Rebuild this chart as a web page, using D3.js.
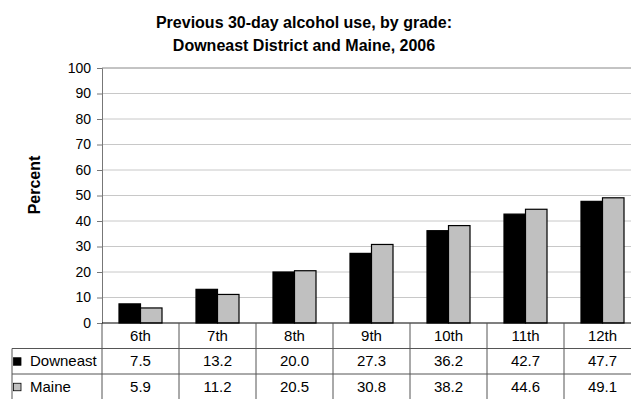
<!DOCTYPE html>
<html>
<head>
<meta charset="utf-8">
<script src="https://cdn.jsdelivr.net/npm/d3@7"></script>
<style>
  body { margin: 0; background: #fff; }
  svg { display: block; font-family: "Liberation Sans", Arial, sans-serif; }
</style>
</head>
<body>
<svg id="chart" width="631" height="399"></svg>
<script>
var grades = ["6th", "7th", "8th", "9th", "10th", "11th", "12th"];
var seriesNames = ["Downeast", "Maine"];
var downeast = [7.5, 13.2, 20.0, 27.3, 36.2, 42.7, 47.7];
var maine = [5.9, 11.2, 20.5, 30.8, 38.2, 44.6, 49.1];
var yTicks = [0, 10, 20, 30, 40, 50, 60, 70, 80, 90, 100];
var seriesColors = ["#000000", "#c0c0c0"];

var svg = d3.select("#chart");
var plotLeft = 102, plotRight = 641, plotTop = 68, plotBottom = 323;
var rowH = 25.5;

var x = d3.scaleBand().domain(grades).range([plotLeft, plotRight]);
var xs = d3.scaleBand().domain(seriesNames).range([0, x.bandwidth()]).paddingOuter(0.79);
var y = d3.scaleLinear().domain([0, 100]).range([plotBottom, plotTop]);

// title
var title = svg.append("text")
    .attr("text-anchor", "middle")
    .style("font-weight", "bold").style("font-size", "16px");
title.append("tspan").attr("x", 304).attr("y", 28).text("Previous 30-day alcohol use, by grade:");
title.append("tspan").attr("x", 304).attr("y", 51).text("Downeast District and Maine, 2006");

// gridlines
svg.append("g").selectAll("line")
    .data(yTicks.filter(function(d) { return d > 0; }))
    .join("line")
    .attr("x1", plotLeft).attr("x2", plotRight)
    .attr("y1", function(d) { return y(d); })
    .attr("y2", function(d) { return y(d); })
    .style("stroke", function(d) { return d == 100 ? "#888" : "#c8c8c8"; })
    .style("stroke-width", 1);

// y axis
var yAxis = svg.append("g")
    .attr("transform", "translate(" + plotLeft + ",0)")
    .call(d3.axisLeft(y).tickValues(yTicks).tickSize(5).tickPadding(6));
yAxis.select(".domain").style("stroke", "#777");
yAxis.selectAll(".tick line").style("stroke", "#777");
yAxis.selectAll("text").style("font-size", "14px").style("fill", "#000")
    .style("font-family", "Liberation Sans, Arial, sans-serif");

svg.append("text")
    .attr("transform", "translate(40,185) rotate(-90)")
    .attr("text-anchor", "middle")
    .style("font-weight", "bold").style("font-size", "16px")
    .text("Percent");

// bars
var data = [downeast, maine];
var groups = svg.append("g").selectAll("g")
    .data(seriesNames)
    .join("g")
    .style("fill", function(d, i) { return seriesColors[i]; });
groups.selectAll("rect")
    .data(function(s, i) { return data[i].map(function(v, j) { return { s: s, g: grades[j], v: v }; }); })
    .join("rect")
    .attr("x", function(d) { return x(d.g) + xs(d.s); })
    .attr("y", function(d) { return y(d.v); })
    .attr("width", xs.bandwidth())
    .attr("height", function(d) { return plotBottom - y(d.v); })
    .style("stroke", "#000")
    .style("stroke-width", 1.2);

// zero line
svg.append("line")
    .attr("x1", plotLeft).attr("x2", plotRight)
    .attr("y1", plotBottom).attr("y2", plotBottom)
    .style("stroke", "#000").style("stroke-width", 1.2);

// data table
var table = svg.append("g").style("font-size", "15px");
var tabLeft = 12;
var lineColor = "#555";

// column separators
table.selectAll("line.col")
    .data(grades.concat(["end"]))
    .join("line")
    .attr("class", "col")
    .attr("x1", function(d, i) { return plotLeft + i * x.step(); })
    .attr("x2", function(d, i) { return plotLeft + i * x.step(); })
    .attr("y1", plotBottom).attr("y2", plotBottom + rowH * 3)
    .style("stroke", lineColor);
// horizontal lines
table.selectAll("line.row")
    .data([1, 2, 3])
    .join("line")
    .attr("class", "row")
    .attr("x1", tabLeft).attr("x2", plotRight)
    .attr("y1", function(d) { return plotBottom + d * rowH; })
    .attr("y2", function(d) { return plotBottom + d * rowH; })
    .style("stroke", lineColor);
table.append("line")
    .attr("x1", tabLeft).attr("x2", tabLeft)
    .attr("y1", plotBottom + rowH).attr("y2", plotBottom + rowH * 3)
    .style("stroke", lineColor);

// header labels
table.selectAll("text.hdr")
    .data(grades)
    .join("text")
    .attr("class", "hdr")
    .attr("x", function(d) { return x(d) + x.bandwidth() / 2; })
    .attr("y", plotBottom + rowH / 2 + 5)
    .attr("text-anchor", "middle")
    .text(function(d) { return d; });

// series rows
seriesNames.forEach(function(s, i) {
    var cy = plotBottom + rowH * (i + 1) + rowH / 2;
    table.append("rect")
        .attr("x", tabLeft + 1.5).attr("y", cy - 3.5)
        .attr("width", 7.5).attr("height", 7.5)
        .style("fill", seriesColors[i]).style("stroke", "#000").style("stroke-width", 0.8);
    table.append("text")
        .attr("x", tabLeft + 18).attr("y", cy + 5)
        .text(s);
    table.selectAll("text.v" + i)
        .data(data[i])
        .join("text")
        .attr("class", "v" + i)
        .attr("x", function(d, j) { return x(grades[j]) + x.bandwidth() / 2; })
        .attr("y", cy + 5)
        .attr("text-anchor", "middle")
        .text(function(d) { return d.toFixed(1); });
});
</script>
</body>
</html>
